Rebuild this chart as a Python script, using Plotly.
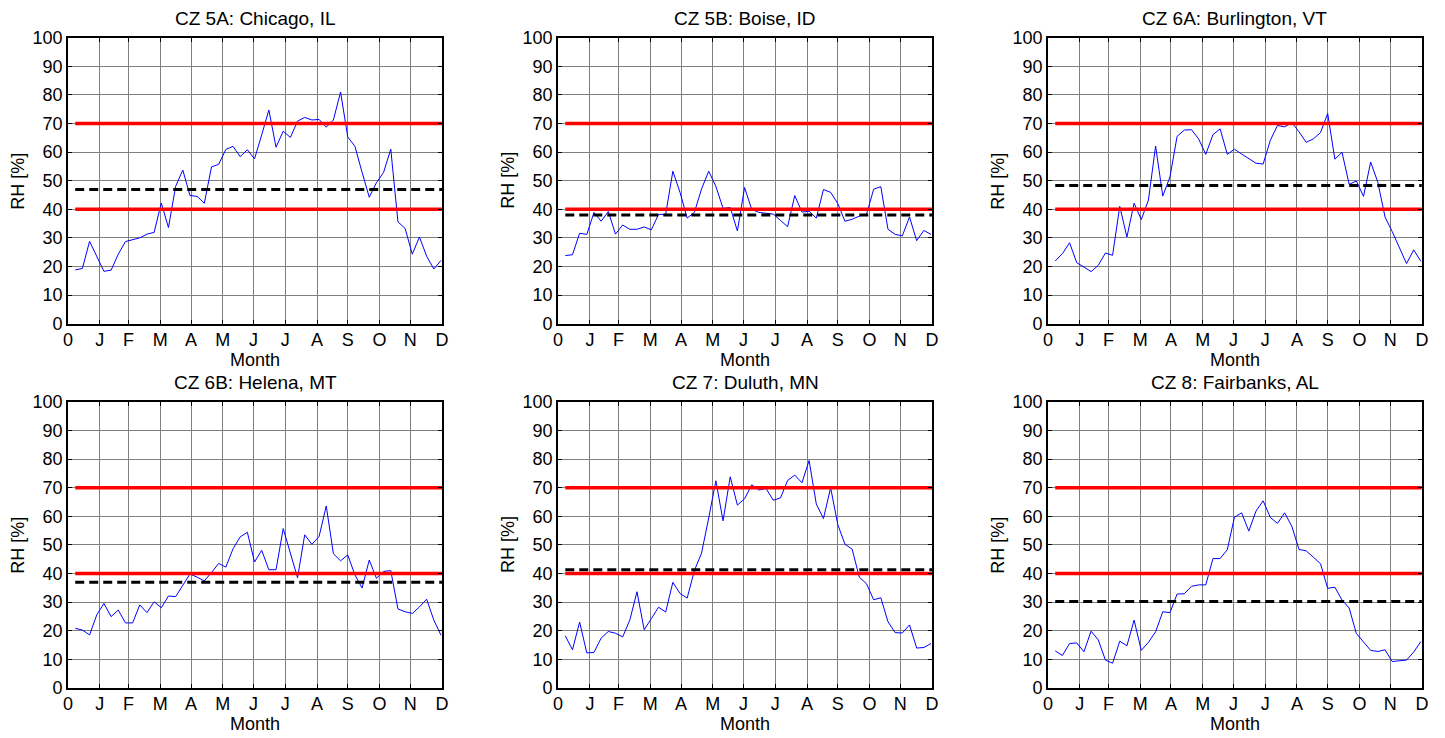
import plotly.graph_objects as go

# ---- data -----------------------------------------------------------------
# weekly relative-humidity samples (day of year of each sample)
SAMPLE_DAYS = list(range(7, 365, 7))
YEAR_END = 365

MONTH_END_DAYS = [0, 31, 59, 90, 120, 151, 181, 212, 243, 273, 304, 334, 365]
MONTH_LABELS = ["0", "J", "F", "M", "A", "M", "J", "J", "A", "S", "O", "N", "D"]
RH_TICKS = [0, 10, 20, 30, 40, 50, 60, 70, 80, 90, 100]

RH_LOW = 40
RH_HIGH = 70

CITY_TITLES = [
    "CZ 5A: Chicago, IL", "CZ 5B: Boise, ID", "CZ 6A: Burlington, VT",
    "CZ 6B: Helena, MT", "CZ 7: Duluth, MN", "CZ 8: Fairbanks, AL",
]

# annual mean RH for each city
MEAN_RH = [46.9, 38.0, 48.3, 36.9, 41.3, 30.2]

rh_chicago = [18.8, 19.3, 28.8, 23.5, 18.3, 18.7, 24.3, 28.7, 29.3, 30.0,
              31.3, 31.9, 42.2, 33.6, 48.0, 53.7, 44.8, 44.5, 42.1, 54.8,
              55.7, 60.9, 62.0, 58.4, 60.8, 57.6, 66.0, 74.7, 61.7, 67.3,
              65.1, 70.8, 72.1, 71.2, 71.4, 68.7, 71.2, 81.0, 65.3, 62.0,
              52.9, 44.2, 49.3, 52.9, 61.0, 35.6, 33.3, 24.3, 30.3, 23.6,
              19.1, 22.1]

rh_boise = [23.8, 24.1, 31.6, 31.2, 38.9, 35.8, 39.2, 31.3, 34.5, 33.0,
            33.0, 33.8, 32.8, 38.2, 38.2, 53.3, 45.9, 36.9, 38.9, 47.1,
            53.3, 48.0, 40.3, 40.6, 32.4, 47.6, 39.9, 38.9, 38.6, 38.3,
            36.1, 33.9, 44.8, 39.0, 39.3, 36.9, 46.9, 45.9, 42.0, 35.8,
            36.5, 37.6, 38.2, 47.0, 47.9, 33.0, 31.2, 30.7, 37.3, 29.0,
            32.6, 31.2]

rh_burlington = [21.9, 24.5, 28.3, 21.3, 19.8, 18.2, 20.4, 24.7, 23.9, 41.0,
                 30.3, 42.1, 36.4, 43.2, 62.1, 44.6, 51.3, 65.5, 67.7, 67.8,
                 64.6, 59.2, 66.1, 68.1, 59.2, 61.0, 59.3, 57.7, 56.1, 55.8,
                 64.1, 69.3, 68.8, 70.3, 67.1, 63.4, 64.6, 66.8, 73.5, 57.5,
                 59.9, 48.7, 49.9, 44.5, 56.5, 49.4, 37.3, 32.2, 26.3, 21.0,
                 25.8, 21.8]

rh_helena = [20.8, 20.2, 18.5, 25.5, 29.5, 24.9, 27.2, 22.7, 22.7, 29.0,
             26.3, 30.1, 28.0, 32.1, 31.9, 36.0, 39.8, 38.7, 37.4, 40.3,
             43.5, 42.2, 48.6, 52.8, 54.4, 44.0, 48.1, 41.3, 41.3, 55.7,
             47.1, 38.5, 53.5, 50.2, 52.9, 63.6, 46.9, 44.4, 46.5, 39.5,
             34.9, 44.7, 38.3, 40.7, 41.0, 27.6, 26.6, 26.0, 28.3, 31.0,
             23.7, 18.4]

rh_duluth = [18.2, 13.3, 23.0, 12.2, 12.4, 17.4, 19.7, 19.1, 17.8, 23.7,
             33.6, 20.3, 24.2, 28.2, 26.5, 36.9, 33.0, 31.4, 41.0, 47.1,
             59.4, 72.4, 58.4, 73.8, 63.9, 66.1, 71.0, 69.2, 69.7, 65.6,
             66.4, 72.5, 74.4, 71.7, 79.5, 64.3, 59.2, 70.0, 57.1, 50.2,
             48.5, 38.7, 36.4, 30.8, 31.5, 23.1, 19.3, 19.2, 22.0, 13.9,
             14.1, 15.5]

rh_fairbanks = [12.9, 11.3, 15.5, 15.7, 12.6, 19.8, 16.8, 9.7, 8.6, 16.3,
                14.7, 23.7, 13.1, 15.9, 19.6, 26.6, 26.3, 32.8, 32.9, 35.5,
                36.0, 36.0, 45.2, 45.2, 48.3, 59.7, 61.2, 54.8, 61.8, 65.4,
                59.6, 57.5, 61.2, 56.5, 48.4, 47.9, 45.7, 43.4, 34.8, 35.2,
                30.7, 27.9, 19.0, 15.9, 13.1, 12.7, 13.3, 9.2, 9.4, 9.7,
                12.5, 16.2]

RH_SERIES = [rh_chicago, rh_boise, rh_burlington,
             rh_helena, rh_duluth, rh_fairbanks]

# ---- layout geometry (canvas pixels) --------------------------------------
W, H = 1429, 738

# panel edges inside the canvas: columns (left, right), rows (top, bottom)
COL_PX = [(63.6, 440.7), (557.8, 934.9), (1051.9, 1428.9)]
ROW_PX = [(28.4, 322.4), (402.8, 696.7)]

TITLE_GAP = 19.5     # panel top -> title centre
XLABEL_GAP = 37.5    # panel bottom -> "Month" centre
YLABEL_GAP = 50.5    # panel left -> "RH [%]" centre

FONT = "Arial, 'Liberation Sans', sans-serif"
FS_TITLE = 19
FS_LABEL = 18
FS_TICK = 18


def px_x(v):
    return v / W


def px_y(v):
    return 1 - v / H


fig = go.Figure()
annotations = []

for i, (title, rh, mean_rh) in enumerate(zip(CITY_TITLES, RH_SERIES, MEAN_RH)):
    r, c = divmod(i, 3)
    n = "" if i == 0 else str(i + 1)
    xa, ya = "x" + n, "y" + n
    x0, x1 = COL_PX[c]
    top, bot = ROW_PX[r]

    # weekly RH trace
    fig.add_trace(go.Scatter(
        x=SAMPLE_DAYS, y=rh, mode="lines",
        line=dict(color="#0000ff", width=1),
        xaxis=xa, yaxis=ya, showlegend=False, hoverinfo="x+y"))

    # comfort band limits
    for lim in (RH_HIGH, RH_LOW):
        fig.add_trace(go.Scatter(
            x=[SAMPLE_DAYS[0], YEAR_END], y=[lim, lim], mode="lines",
            line=dict(color="#ff0000", width=3.5),
            xaxis=xa, yaxis=ya, showlegend=False, hoverinfo="skip"))

    # annual mean
    fig.add_trace(go.Scatter(
        x=[SAMPLE_DAYS[0], YEAR_END], y=[mean_rh, mean_rh], mode="lines",
        line=dict(color="#000000", width=3, dash="9px,5px"),
        xaxis=xa, yaxis=ya, showlegend=False, hoverinfo="skip"))

    axis_common = dict(
        showline=True, linecolor="black", linewidth=2, mirror="ticks",
        ticks="inside", ticklen=4, tickcolor="black", tickwidth=1,
        showgrid=True, gridcolor="#7f7f7f", gridwidth=1,
        zeroline=False, tickfont=dict(family=FONT, size=FS_TICK, color="black"),
        fixedrange=True,
    )
    fig.update_layout({
        "xaxis" + n: dict(
            axis_common, domain=[px_x(x0), px_x(x1)], anchor=ya,
            range=[0, YEAR_END], tickmode="array",
            tickvals=MONTH_END_DAYS, ticktext=MONTH_LABELS,
            ticklabelstandoff=-1),
        "yaxis" + n: dict(
            axis_common, domain=[px_y(bot), px_y(top)], anchor=xa,
            range=[0, 100], tickmode="array", tickvals=RH_TICKS,
            ticklabelstandoff=0),
    })

    cx = (x0 + x1) / 2
    annotations.append(dict(
        text=title, x=px_x(cx), y=px_y(top - TITLE_GAP),
        xref="paper", yref="paper",
        xanchor="center", yanchor="middle", showarrow=False,
        font=dict(family=FONT, size=FS_TITLE, color="black")))
    annotations.append(dict(
        text="Month", x=px_x(cx), y=px_y(bot + XLABEL_GAP),
        xref="paper", yref="paper",
        xanchor="center", yanchor="middle", showarrow=False,
        font=dict(family=FONT, size=FS_LABEL, color="black")))
    annotations.append(dict(
        text="RH [%]", x=px_x(x0 - YLABEL_GAP), y=px_y((top + bot) / 2),
        xref="paper", yref="paper", xanchor="center", yanchor="middle",
        textangle=-90, showarrow=False,
        font=dict(family=FONT, size=FS_LABEL, color="black")))

fig.update_layout(
    width=W, height=H, autosize=False,
    margin=dict(l=0, r=0, t=0, b=0),
    paper_bgcolor="white", plot_bgcolor="white",
    annotations=annotations, showlegend=False,
)

fig.write_html("out.html")
